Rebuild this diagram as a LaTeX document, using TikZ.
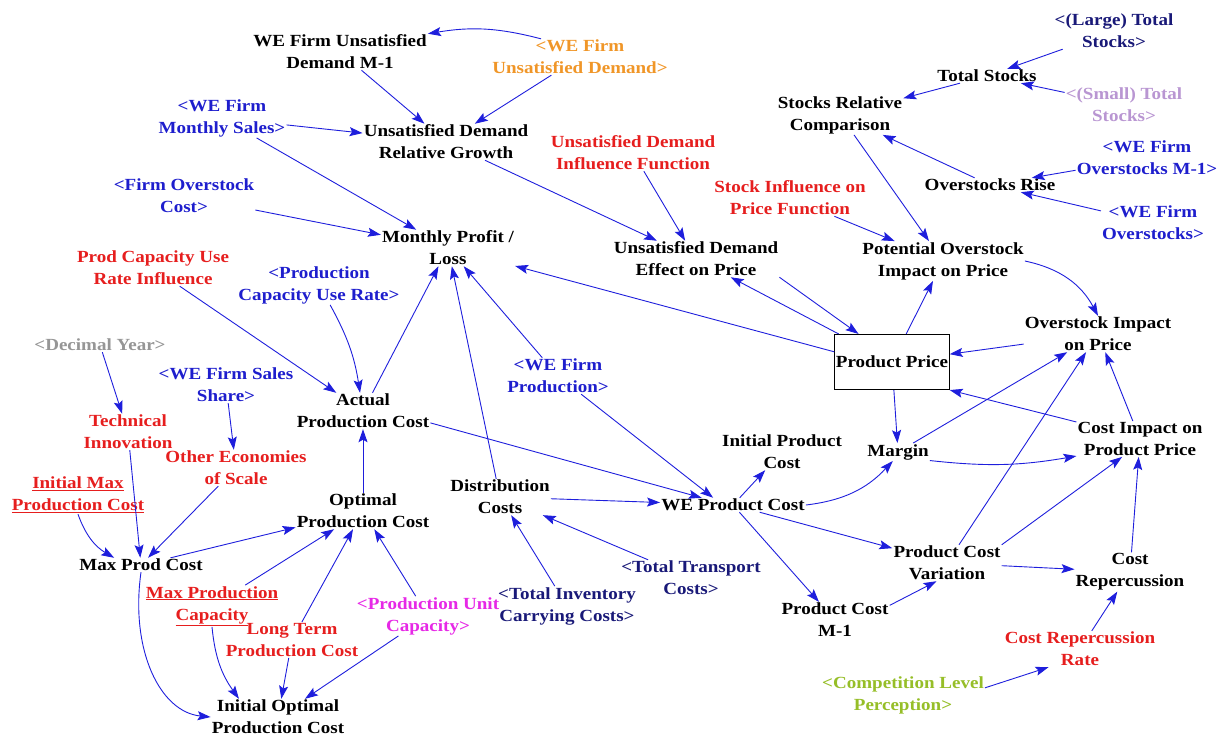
\documentclass[tikz,border=0pt]{standalone}
\usepackage{fontspec}
\setmainfont{Liberation Serif}[FakeStretch=1.12]
\usetikzlibrary{arrows.meta}

\definecolor{linkblue}{RGB}{30,30,220}
\definecolor{auxblue}{RGB}{30,30,205}
\definecolor{auxnavy}{RGB}{25,25,120}
\definecolor{auxorange}{RGB}{240,150,40}
\definecolor{auxred}{RGB}{230,30,30}
\definecolor{auxgray}{RGB}{150,150,150}
\definecolor{auxlilac}{RGB}{185,150,210}
\definecolor{auxmagenta}{RGB}{230,40,230}
\definecolor{auxlime}{RGB}{150,190,40}

\tikzset{aux/.style = {text = #1},
         aux/.default = auxblue,
         link/.style = {draw = linkblue, line width = 0.9pt,
                        -{Stealth[length = 13pt, width = 9pt, inset = 2.5pt]}},
         stockbox/.style = {draw, line width = 1.1pt, rectangle,
                            minimum width = #1, minimum height = 55pt},
         stockbox/.default = 114pt
        }

\begin{document}
\begin{tikzpicture}[x = 1pt, y = -1pt]
  \tikzstyle{every node}=[align = center, inner sep = 1pt,
                          font = \fontsize{17}{22}\selectfont\bfseries]
  \useasboundingbox (0,0) rectangle (1230,744);
  \node (weUnsatM1) at (340,52) {WE Firm Unsatisfied\\Demand M-1};
  \node[aux=auxorange] (weUnsatDemand) at (580,57) {<WE Firm\\Unsatisfied Demand>};
  \node[aux] (weMonthlySales) at (222,118) {<WE Firm\\Monthly Sales>};
  \node (unsatRelGrowth) at (446,142) {Unsatisfied Demand\\Relative Growth};
  \node[aux] (firmOverstockCost) at (184,196) {<Firm Overstock\\Cost>};
  \node (monthlyProfit) at (448,248) {Monthly Profit /\\Loss};
  \node[aux=auxred] (unsatInfluenceFn) at (633,153) {Unsatisfied Demand\\Influence Function};
  \node (unsatEffect) at (696,259) {Unsatisfied Demand\\Effect on Price};
  \node[aux=auxred] (stockInfluenceFn) at (790,198) {Stock Influence on\\Price Function};
  \node (potentialOverstock) at (943,261) {Potential Overstock\\Impact on Price};
  \node (stocksRelComp) at (840,115) {Stocks Relative\\Comparison};
  \node (totalStocks) at (987,76) {Total Stocks};
  \node[aux=auxnavy] (largeTotalStocks) at (1114,31) {<(Large) Total\\Stocks>};
  \node[aux=auxlilac] (smallTotalStocks) at (1124,105) {<(Small) Total\\Stocks>};
  \node[aux] (overstocksM1) at (1147,158) {<WE Firm\\Overstocks M-1>};
  \node (overstocksRise) at (990,185) {Overstocks Rise};
  \node[aux] (weOverstocks) at (1153,223) {<WE Firm\\Overstocks>};
  \node[aux=auxred] (prodCapRateInfl) at (153,268) {Prod Capacity Use\\Rate Influence};
  \node[aux] (prodCapUseRate) at (319,285) {<Production\\Capacity Use Rate>};
  \node[aux=auxgray] (decimalYear) at (100,345) {<Decimal Year>};
  \node[aux] (weSalesShare) at (226,385) {<WE Firm Sales\\Share>};
  \node (actualProdCost) at (363,411) {Actual\\Production Cost};
  \node[aux] (weProduction) at (558,376) {<WE Firm\\Production>};
  \node[aux=auxred] (techInnovation) at (128,432) {Technical\\Innovation};
  \node[aux=auxred] (otherEconomies) at (236,468) {Other Economies\\of Scale};
  \node[aux=auxred] (initialMaxProdCost) at (78,495) {\underline{Initial Max}\\\underline{Production Cost}};
  \node (optimalProdCost) at (363,511) {Optimal\\Production Cost};
  \node (distributionCosts) at (500,497) {Distribution\\Costs};
  \node (weProductCost) at (733,505) {WE Product Cost};
  \node (initialProductCost) at (782,452) {Initial Product\\Cost};
  \node[stockbox] (productPrice) at (892,362) {Product Price};
  \node (overstockImpact) at (1098,334) {Overstock Impact\\on Price};
  \node (margin) at (898,452) {Margin};
  \node (costImpact) at (1140,439) {Cost Impact on\\Product Price};
  \node (maxProdCost) at (141,565) {Max Prod Cost};
  \node[aux=auxred] (maxProdCapacity) at (212,606) {\underline{Max Production}\\\underline{Capacity}};
  \node[aux=auxred] (longTermProdCost) at (292,640) {Long Term\\Production Cost};
  \node[aux=auxmagenta] (prodUnitCapacity) at (428,616) {<Production Unit\\Capacity>};
  \node[aux=auxnavy] (totalInventory) at (567,606) {<Total Inventory\\Carrying Costs>};
  \node[aux=auxnavy] (totalTransport) at (691,578) {<Total Transport\\Costs>};
  \node (initialOptimal) at (278,717) {Initial Optimal\\Production Cost};
  \node (productCostM1) at (835,620) {Product Cost\\M-1};
  \node (productCostVariation) at (947,563) {Product Cost\\Variation};
  \node (costRepercussion) at (1130,572) {Cost\\Repercussion};
  \node[aux=auxred] (costRepRate) at (1080,649) {Cost Repercussion\\Rate};
  \node[aux=auxlime] (competition) at (903,695) {<Competition Level\\Perception>};

  \draw[link] (weUnsatDemand.155) to[bend right=12] (weUnsatM1.north east);
  \draw[link] (weUnsatM1) -- (unsatRelGrowth);
  \draw[link] (weUnsatDemand) -- (unsatRelGrowth);
  \draw[link] (weMonthlySales) -- (unsatRelGrowth);
  \draw[link] (weMonthlySales) -- (monthlyProfit);
  \draw[link] (firmOverstockCost) -- (monthlyProfit);
  \draw[link] (unsatRelGrowth) -- (unsatEffect);
  \draw[link] (unsatInfluenceFn) -- (unsatEffect);
  \draw[link] (stockInfluenceFn) -- (potentialOverstock);
  \draw[link] (stocksRelComp) -- (potentialOverstock);
  \draw[link] (largeTotalStocks) -- (totalStocks);
  \draw[link] (totalStocks) -- (stocksRelComp);
  \draw[link] (smallTotalStocks) -- (totalStocks);
  \draw[link] (overstocksRise) -- (stocksRelComp);
  \draw[link] (overstocksM1) -- (overstocksRise);
  \draw[link] (weOverstocks) -- (overstocksRise);
  \draw[link] (potentialOverstock.east) to[bend left=25] (overstockImpact.north);
  \draw[link] (productPrice) -- (potentialOverstock);
  \draw[link] (productPrice) -- (unsatEffect);
  \draw[link] (unsatEffect.south east) -- (productPrice.140);
  \draw[link] (productPrice.170) -- (monthlyProfit);
  \draw[link] (overstockImpact) -- (productPrice);
  \draw[link] (productPrice) -- (margin);
  \draw[link] (margin) -- (overstockImpact);
  \draw[link] (productCostVariation) -- (overstockImpact);
  \draw[link] (costImpact) -- (overstockImpact);
  \draw[link] (costImpact.165) -- (productPrice.south east);
  \draw[link] (margin.-15) to[bend right=8] (costImpact.195);
  \draw[link] (productCostVariation.north east) -- (costImpact.225);
  \draw[link] (costRepercussion) -- (costImpact);
  \draw[link] (productCostVariation) -- (costRepercussion);
  \draw[link] (costRepRate) -- (costRepercussion);
  \draw[link] (competition.5) -- (costRepRate.210);
  \draw[link] (productCostM1.15) -- (productCostVariation.240);
  \draw[link] (weProductCost) -- (productCostM1);
  \draw[link] (weProductCost) -- (productCostVariation);
  \draw[link] (weProductCost.east) to[bend right=20] (margin.240);
  \draw[link] (weProductCost) -- (initialProductCost);
  \draw[link] (actualProdCost.-10) -- (weProductCost.167);
  \draw[link] (weProduction) -- (weProductCost.160);
  \draw[link] (weProduction) -- (monthlyProfit);
  \draw[link] (distributionCosts) -- (monthlyProfit);
  \draw[link] (actualProdCost) -- (monthlyProfit);
  \draw[link] (prodCapUseRate) to[bend left=10] (actualProdCost);
  \draw[link] (prodCapRateInfl) -- (actualProdCost);
  \draw[link] (optimalProdCost) -- (actualProdCost);
  \draw[link] (decimalYear) -- (techInnovation);
  \draw[link] (weSalesShare) -- (otherEconomies);
  \draw[link] (techInnovation) -- (maxProdCost);
  \draw[link] (otherEconomies) -- (maxProdCost);
  \draw[link] (initialMaxProdCost.south) to[bend right=20] (maxProdCost.165);
  \draw[link] (maxProdCost) -- (optimalProdCost);
  \draw[link] (maxProdCapacity) -- (optimalProdCost);
  \draw[link] (longTermProdCost) -- (optimalProdCost);
  \draw[link] (prodUnitCapacity) -- (optimalProdCost);
  \draw[link] (maxProdCost.south) .. controls (130,650) and (160,712) .. (initialOptimal.west);
  \draw[link] (maxProdCapacity.south) to[bend right=15] (initialOptimal.155);
  \draw[link] (longTermProdCost) -- (initialOptimal);
  \draw[link] (prodUnitCapacity) -- (initialOptimal);
  \draw[link] (distributionCosts) -- (weProductCost);
  \draw[link] (totalTransport) -- (distributionCosts);
  \draw[link] (totalInventory) -- (distributionCosts);
\end{tikzpicture}
\end{document}
